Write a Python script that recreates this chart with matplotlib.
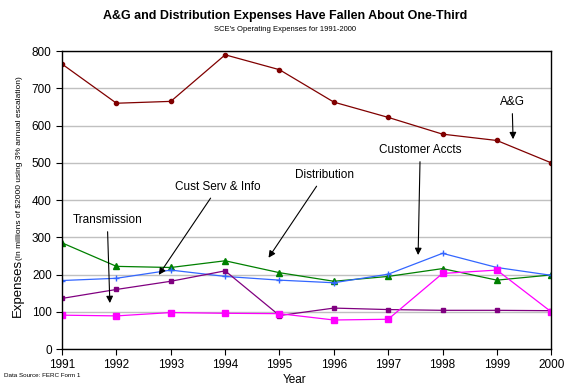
import matplotlib
matplotlib.use("Agg")
import matplotlib.pyplot as plt

plt.rcParams['font.family'] = ['Liberation Sans', 'DejaVu Sans']

years = [1991, 1992, 1993, 1994, 1995, 1996, 1997, 1998, 1999, 2000]
ag = [765, 660, 665, 790, 750, 663, 622, 577, 560, 500]
distribution = [285, 222, 219, 237, 205, 182, 195, 216, 185, 199]
customer_accts = [184, 190, 212, 195, 185, 178, 201, 257, 219, 198]
transmission = [136, 160, 182, 210, 90, 110, 106, 104, 104, 103]
cust_serv = [91, 89, 98, 96, 95, 78, 80, 203, 212, 100]

fig = plt.figure(figsize=(5.7, 3.9), dpi=100)
ax = fig.add_axes([0.109, 0.105, 0.858, 0.764])

ax.plot(years, ag, "-o", color="#800000", lw=0.9, ms=3)
ax.plot(years, distribution, "-^", color="#008000", lw=0.9, ms=4.5)
ax.plot(years, customer_accts, "-+", color="#3366ff", lw=0.9, ms=5, mew=1)
ax.plot(years, transmission, "-s", color="#800080", lw=0.9, ms=2.5)
ax.plot(years, cust_serv, "-s", color="#ff00ff", lw=0.9, ms=4)

ax.set_xlim(1991, 2000)
ax.set_ylim(0, 800)
ax.set_xticks(years)
ax.set_yticks(range(0, 801, 100))
ax.tick_params(labelsize=8.5, length=4, width=0.8, color="black")
ax.yaxis.grid(True, color="#c0c0c0", lw=1)
ax.set_axisbelow(True)
for s in ax.spines.values():
    s.set_color("black")
    s.set_linewidth(1)

# annotations with arrows
arrow = dict(arrowstyle="-|>", color="black", lw=0.8, mutation_scale=10)
ax.annotate("A&G", xy=(1999.3, 556), xytext=(1999.28, 663), ha="center", va="center",
            fontsize=8.5, arrowprops=arrow)
ax.annotate("Customer Accts", xy=(1997.55, 245), xytext=(1997.59, 534), ha="center", va="center",
            fontsize=8.5, arrowprops=arrow)
ax.annotate("Transmission", xy=(1991.88, 116), xytext=(1991.83, 346), ha="center", va="center",
            fontsize=8.5, arrowprops=arrow)
ax.annotate("Cust Serv & Info", xy=(1992.75, 193), xytext=(1993.87, 435), ha="center", va="center",
            fontsize=8.5, arrowprops=arrow)
ax.annotate("Distribution", xy=(1994.77, 239), xytext=(1995.82, 467), ha="center", va="center",
            fontsize=8.5, arrowprops=arrow)

fig.text(0.5, 0.958, "A&G and Distribution Expenses Have Fallen About One-Third",
         ha="center", va="center", fontsize=9, fontweight="bold")
fig.text(0.5, 0.925, "SCE's Operating Expenses for 1991-2000",
         ha="center", va="center", fontsize=5.5)
fig.text(0.032, 0.187, "Expenses", rotation=90, ha="center", va="bottom", fontsize=9.5)
fig.text(0.034, 0.333, "(In millions of $2000 using 3% annual escalation)",
         rotation=90, ha="center", va="bottom", fontsize=6)
fig.text(0.516, 0.025, "Year", ha="center", va="center", fontsize=8.5)
fig.text(0.007, 0.036, "Data Source: FERC Form 1", ha="left", va="center", fontsize=4.5)

fig.savefig("out.png", dpi=100)
